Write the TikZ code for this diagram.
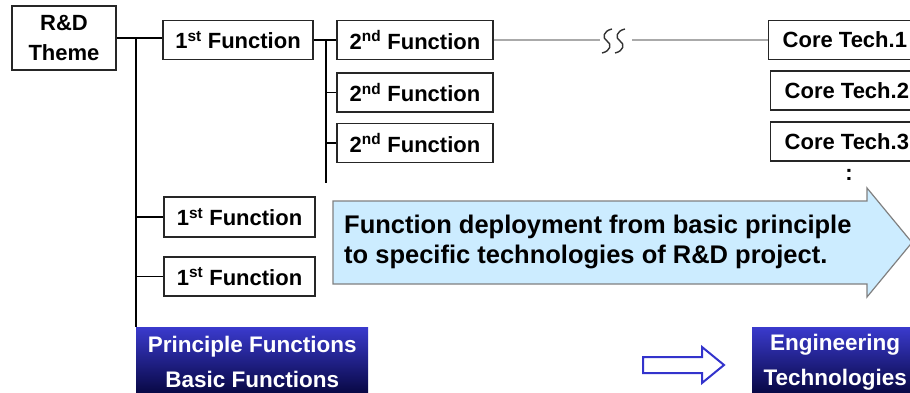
\documentclass[tikz,border=0pt]{standalone}
\usepackage{fontspec}
\setmainfont{Liberation Sans}
\definecolor{arrowfill}{RGB}{204,236,255}
\definecolor{arrowline}{RGB}{128,128,128}
\definecolor{gline}{RGB}{170,170,170}
\definecolor{btop}{RGB}{58,58,205}
\definecolor{bbot}{RGB}{5,5,60}
\definecolor{sblue}{RGB}{51,51,204}
\begin{document}
\begin{tikzpicture}[x=1pt,y=-1pt,
  box/.style={draw=black!85,line width=1.4pt,fill=white,inner sep=0pt,
    font=\fontsize{22}{30}\selectfont\bfseries,align=center},
  fbox/.style={box,minimum width=150pt,minimum height=39pt},
  sbox/.style={box,minimum width=156pt,minimum height=39pt},
  cbox/.style={box,anchor=west,minimum height=39pt,inner xsep=14pt,align=left},
  conn/.style={line width=1.3pt,black},
  gconn/.style={line width=2.5pt,gline},
  bluebox/.style={inner sep=0pt,top color=btop,bottom color=bbot,text=white,
    font=\fontsize{22.5}{35}\selectfont\bfseries,align=center},
]
\useasboundingbox (0,0) rectangle (910,393);
% nodes
\node[box,minimum width=104pt,minimum height=64pt] (RD) at (64,38) {R\&D\\Theme};
\node[fbox] (F1a) at (238,40) {1\textsuperscript{st} Function};
\node[sbox] (F2a) at (415,40) {2\textsuperscript{nd} Function};
\node[sbox] (F2b) at (415,92.5) {2\textsuperscript{nd} Function};
\node[sbox] (F2c) at (415,143) {2\textsuperscript{nd} Function};
\node[cbox] (CT1) at (768,40) {Core Tech.1};
\node[cbox] (CT2) at (770,90.5) {Core Tech.2};
\node[cbox] (CT3) at (770,141.5) {Core Tech.3};
\node[font=\fontsize{22}{24}\selectfont\bfseries] (dots) at (849,175) {:};
\node[fbox,minimum width=151pt,minimum height=40pt] (F1b) at (239.5,217) {1\textsuperscript{st} Function};
\node[fbox,minimum width=151pt] (F1c) at (239.5,276.5) {1\textsuperscript{st} Function};
% big arrow
\draw[arrowline,line width=1.2pt,fill=arrowfill,line join=miter]
  (333,201) -- (867,201) -- (867,188) -- (912,242.5) -- (867,297) -- (867,284) -- (333,284) -- cycle;
\node[anchor=west,align=left,inner sep=0pt,font=\fontsize{25.5}{30.5}\selectfont\bfseries] (msg) at (344,242)
  {Function deployment from basic principle\\to specific technologies of R\&D project.};
% blue boxes
\node[bluebox,minimum width=232pt,minimum height=70pt,anchor=north west] (PF) at (136,327)
  {Principle Functions\\Basic Functions};
\node[bluebox,minimum width=166pt,minimum height=70pt,anchor=north west] (ET) at (752,327)
  {Engineering\\Technologies};
% small arrow
\draw[sblue,line width=2pt,fill=white,line join=miter]
  (643,357) -- (702,357) -- (702,347) -- (724,365) -- (702,383) -- (702,373) -- (643,373) -- cycle;
% connectors
\coordinate (t0) at (136,38);
\draw[conn] (RD.east) -- (RD.east -| F1a.west);
\draw[conn] (t0) -- (t0 |- PF.north);
\draw[conn] (t0 |- F1b.west) -- (F1b.west);
\draw[conn] (t0 |- F1c.west) -- (F1c.west);
\coordinate (t1) at (326,40);
\coordinate (t1e) at (326,183);
\draw[conn] (F1a.east) -- (F2a.west);
\draw[conn] (t1) -- (t1e);
\draw[conn] (t1 |- F2b.west) -- (F2b.west);
\draw[conn] (t1 |- F2c.west) -- (F2c.west);
\coordinate (b1) at (600,40);
\coordinate (b2) at (632,40);
\draw[gconn] (F2a.east) -- (b1);
\draw[gconn] (b2) -- (CT1.west);
\draw[line width=1.4pt,black!80]
  (612,29) .. controls (603,31) and (602,38) .. (607,41) .. controls (612,44) and (611,51) .. (602,53);
\draw[line width=1.4pt,black!80]
  (625,29) .. controls (616,31) and (615,38) .. (620,41) .. controls (625,44) and (624,51) .. (615,53);
\end{tikzpicture}
\end{document}
